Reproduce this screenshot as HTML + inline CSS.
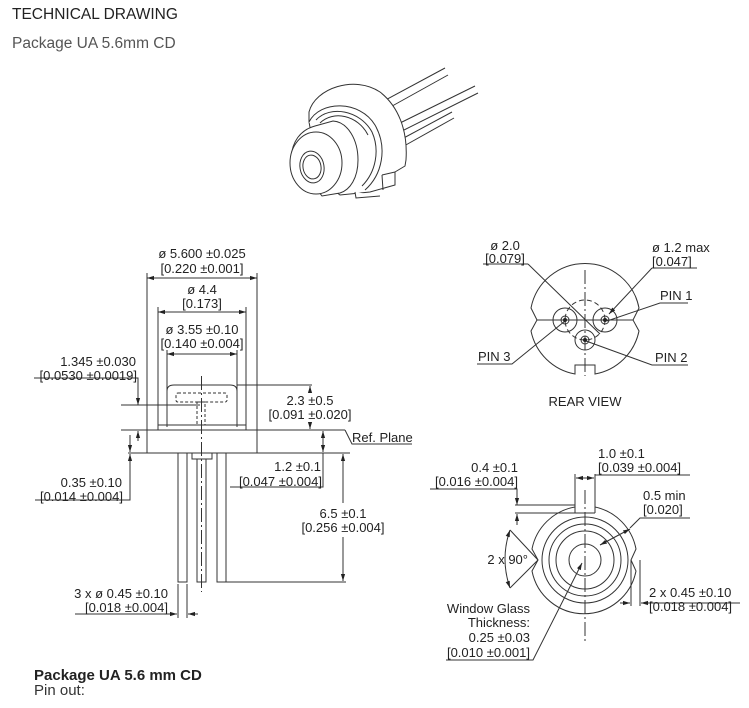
<!DOCTYPE html>
<html><head><meta charset="utf-8"><style>
html,body{margin:0;padding:0;background:#fff;}
svg{display:block;}
text{font-family:"Liberation Sans",sans-serif;fill:#222;}
.d{font-size:13px;}
</style></head><body>
<svg width="749" height="708" viewBox="0 0 749 708" xmlns="http://www.w3.org/2000/svg">
<defs>
<marker id="a" viewBox="0 0 10 10" refX="10" refY="5" markerWidth="7" markerHeight="7" orient="auto-start-reverse"><path d="M0,2 L10,5 L0,8 z" fill="#222"/></marker>
</defs>
<text x="12" y="19" style="font-size:15.5px">TECHNICAL DRAWING</text>
<text x="12" y="48" style="font-size:15.5px;fill:#555">Package UA 5.6mm CD</text>
<text x="34" y="680" style="font-size:15px;font-weight:bold">Package UA 5.6 mm CD</text>
<text x="34" y="695" style="font-size:15px;fill:#333">Pin out:</text>

<!-- 3D view -->
<g fill="#fff" stroke="#333" stroke-width="1">
<line x1="380" y1="103" x2="445" y2="68"/><line x1="385" y1="110" x2="448" y2="75"/>
<line x1="398" y1="124" x2="475" y2="86"/><line x1="402" y1="131" x2="478" y2="93"/>
<line x1="400" y1="140" x2="452" y2="112"/><line x1="404" y1="146" x2="454" y2="118"/>
<path d="M309,122 L309,112 C315,88 355,75 380,92 C398,106 408,130 406,160 L405,166 L395,172 L395,185 L370,192 L340,195 L320,180 Z"/>
<path d="M309,122 C320,100 360,100 375,125 C388,148 382,175 365,190"/>
<path d="M316,120 C330,105 360,110 372,132 C380,150 376,172 362,186"/>
<path d="M320,123 C333,110 358,115 368,135"/>
<path d="M382,175 L395,172 M382,175 L383,190 M355,192 L356,198 L380,196"/>
<path d="M291,158 C292,142 300,130 315,126 L333,121 C348,122 358,140 358,160 C358,178 350,190 340,193 L322,196 Z"/>
<ellipse cx="316" cy="163" rx="26" ry="31"/>
<ellipse cx="312" cy="167" rx="12" ry="16" transform="rotate(-10 312 167)"/>
<ellipse cx="312" cy="167" rx="9" ry="12" transform="rotate(-10 312 167)"/>
</g>

<!-- side view -->
<g stroke="#333" stroke-width="1" fill="none">
<line x1="147" y1="273" x2="147" y2="430"/><line x1="257" y1="273" x2="257" y2="430"/>
<line x1="147" y1="278" x2="257" y2="278" marker-start="url(#a)" marker-end="url(#a)"/>
<line x1="158" y1="307" x2="158" y2="427"/><line x1="246" y1="307" x2="246" y2="427"/>
<line x1="158" y1="312" x2="246" y2="312" marker-start="url(#a)" marker-end="url(#a)"/>
<line x1="167" y1="350" x2="167" y2="427"/><line x1="237" y1="350" x2="237" y2="427"/>
<line x1="167" y1="354" x2="237" y2="354" marker-start="url(#a)" marker-end="url(#a)"/>
<path d="M167,427 L167,391 Q167,385 174,385 L230,385 Q237,385 237,391 L237,427"/>
<rect x="158" y="425" width="88" height="5"/>
<rect x="147" y="430" width="110" height="23"/>
<rect x="176" y="393" width="51" height="9" stroke-dasharray="3,2" rx="2"/>
<rect x="197" y="402" width="8" height="23" stroke-dasharray="3,2"/>
<line x1="201.5" y1="376" x2="201.5" y2="592" stroke-dasharray="14,3,2,3"/>
<rect x="192" y="453" width="20" height="6"/>
<rect x="178" y="453" width="9" height="129"/>
<rect x="197" y="459" width="9" height="123"/>
<rect x="217" y="453" width="9" height="129"/>
<polyline points="34,378 138,378 138,405" marker-end="url(#a)"/>
<line x1="121" y1="405" x2="200" y2="405"/>
<line x1="121" y1="430" x2="147" y2="430"/>
<line x1="138" y1="441" x2="138" y2="431" marker-end="url(#a)"/>
<line x1="128" y1="453" x2="147" y2="453"/>
<line x1="130" y1="435" x2="130" y2="452" marker-end="url(#a)"/>
<polyline points="35,500 130,500 130,454" marker-end="url(#a)"/>
<line x1="237" y1="385" x2="312" y2="385"/>
<line x1="310" y1="392" x2="310" y2="386" marker-end="url(#a)"/>
<line x1="310" y1="422" x2="310" y2="429" marker-end="url(#a)"/>
<line x1="257" y1="430" x2="345" y2="430"/>
<polyline points="345,430 352,444 412,444"/>
<line x1="257" y1="453" x2="350" y2="453"/>
<line x1="323" y1="431" x2="323" y2="452" marker-start="url(#a)" marker-end="url(#a)"/>
<polyline points="230,487 323,487 323,453"/>
<line x1="343" y1="454" x2="343" y2="503" marker-start="url(#a)"/>
<line x1="343" y1="537" x2="343" y2="581" marker-end="url(#a)"/>
<line x1="226" y1="582" x2="346" y2="582"/>
<line x1="178" y1="584" x2="178" y2="618"/><line x1="187" y1="584" x2="187" y2="618"/>
<line x1="75" y1="614" x2="177" y2="614" marker-end="url(#a)"/>
<line x1="198" y1="614" x2="188" y2="614" marker-end="url(#a)"/>
</g>
<g class="d" text-anchor="middle">
<text x="202" y="258">ø 5.600 ±0.025</text><text x="202" y="273">[0.220 ±0.001]</text>
<text x="202" y="294">ø 4.4</text><text x="202" y="308">[0.173]</text>
<text x="202" y="334">ø 3.55 ±0.10</text><text x="202" y="348">[0.140 ±0.004]</text>
<text x="310" y="405">2.3 ±0.5</text><text x="310" y="419">[0.091 ±0.020]</text>
<text x="343" y="518">6.5 ±0.1</text><text x="343" y="532">[0.256 ±0.004]</text>
</g>
<g class="d" text-anchor="end">
<text x="136" y="366">1.345 ±0.030</text><text x="137" y="380">[0.0530 ±0.0019]</text>
<text x="122" y="487">0.35 ±0.10</text><text x="123" y="501">[0.014 ±0.004]</text>
<text x="321" y="471">1.2 ±0.1</text><text x="322" y="486">[0.047 ±0.004]</text>
<text x="168" y="598">3 x ø 0.45 ±0.10</text><text x="168" y="612">[0.018 ±0.004]</text>
</g>
<text class="d" x="352" y="442">Ref. Plane</text>

<!-- rear view -->
<g stroke="#333" stroke-width="1" fill="none">
<path d="M531,308 A55,55 0 0 1 639,308 L633,320 L639,331 A55,55 0 0 1 595,374 L595,365 L575,365 L575,374 A55,55 0 0 1 531,331 L537,320 Z"/>
<line x1="585" y1="270" x2="585" y2="376" stroke-dasharray="14,3,2,3"/>
<line x1="537" y1="320" x2="633" y2="320"/>
<circle cx="565" cy="320" r="12"/><circle cx="565" cy="320" r="4"/>
<circle cx="605" cy="320" r="12"/><circle cx="605" cy="320" r="4"/>
<circle cx="585" cy="340" r="10"/><circle cx="585" cy="340" r="4"/>
<circle cx="585" cy="320" r="20" stroke-dasharray="5,3"/>
<line x1="483" y1="264" x2="528" y2="264"/><line x1="528" y1="264" x2="600" y2="334"/>
<line x1="652" y1="268" x2="697" y2="268"/><line x1="652" y1="268" x2="609" y2="314" marker-end="url(#a)"/>
<polyline points="688,303 660,303 607,321"/>
<polyline points="477,364 512,364 565,321"/>
<polyline points="688,365 652,365 586,341"/>
</g>
<g fill="#222"><circle cx="565" cy="320" r="2"/><circle cx="605" cy="320" r="2"/><circle cx="585" cy="340" r="2"/></g>
<g class="d">
<text x="505" y="250" text-anchor="middle">ø 2.0</text><text x="505" y="263" text-anchor="middle">[0.079]</text>
<text x="652" y="252">ø 1.2 max</text><text x="652" y="266">[0.047]</text>
<text x="660" y="300">PIN 1</text><text x="478" y="361">PIN 3</text><text x="655" y="362">PIN 2</text>
<text x="585" y="406" text-anchor="middle">REAR VIEW</text>
</g>

<!-- front view -->
<g stroke="#333" stroke-width="1" fill="none">
<path d="M575,507 A53,53 0 0 0 532,549 L538,560 L532,571 A53,53 0 0 0 636,571 L631,560 L636,549 A53,53 0 0 0 595,507"/>
<path d="M575,513 L575,474 M595,513 L595,474 M575,513 L595,513"/>
<circle cx="585" cy="560" r="43"/><circle cx="585" cy="560" r="36"/><circle cx="585" cy="560" r="29"/><circle cx="585" cy="560" r="16"/>
<line x1="585" y1="490" x2="585" y2="642" stroke-dasharray="14,3,2,3"/>
<line x1="576" y1="478" x2="594" y2="478" marker-start="url(#a)" marker-end="url(#a)"/>
<line x1="595" y1="475" x2="690" y2="475"/>
<polyline points="430,489 517,489 517,505" marker-end="url(#a)"/>
<line x1="515" y1="505" x2="575" y2="505"/><line x1="515" y1="513" x2="575" y2="513"/>
<line x1="517" y1="525" x2="517" y2="514" marker-end="url(#a)"/>
<polyline points="690,518 640,518 630,528" />
<line x1="600" y1="545" x2="630" y2="529" marker-start="url(#a)" marker-end="url(#a)"/>
<path d="M510,530 Q500,559 510,588" marker-start="url(#a)" marker-end="url(#a)"/>
<line x1="510" y1="530" x2="538" y2="560"/><line x1="510" y1="588" x2="538" y2="560"/>
<line x1="631" y1="560" x2="631" y2="606"/><line x1="640" y1="560" x2="640" y2="606"/>
<line x1="620" y1="603" x2="630" y2="603" marker-end="url(#a)"/>
<line x1="650" y1="603" x2="641" y2="603" marker-end="url(#a)"/>
<line x1="650" y1="603" x2="740" y2="603"/>
<polyline points="446,660 533,660 582,563" marker-end="url(#a)"/>
</g>
<g class="d">
<text x="598" y="458">1.0 ±0.1</text><text x="598" y="472">[0.039 ±0.004]</text>
<text x="518" y="472" text-anchor="end">0.4 ±0.1</text><text x="518" y="486" text-anchor="end">[0.016 ±0.004]</text>
<text x="643" y="500">0.5 min</text><text x="643" y="514">[0.020]</text>
<text x="528" y="564" text-anchor="end">2 x 90°</text>
<text x="649" y="597">2 x 0.45 ±0.10</text><text x="649" y="611">[0.018 ±0.004]</text>
<g text-anchor="end"><text x="530" y="613">Window Glass</text><text x="530" y="627">Thickness:</text><text x="530" y="642">0.25 ±0.03</text><text x="530" y="657">[0.010 ±0.001]</text></g>
</g>
</svg>
</body></html>
